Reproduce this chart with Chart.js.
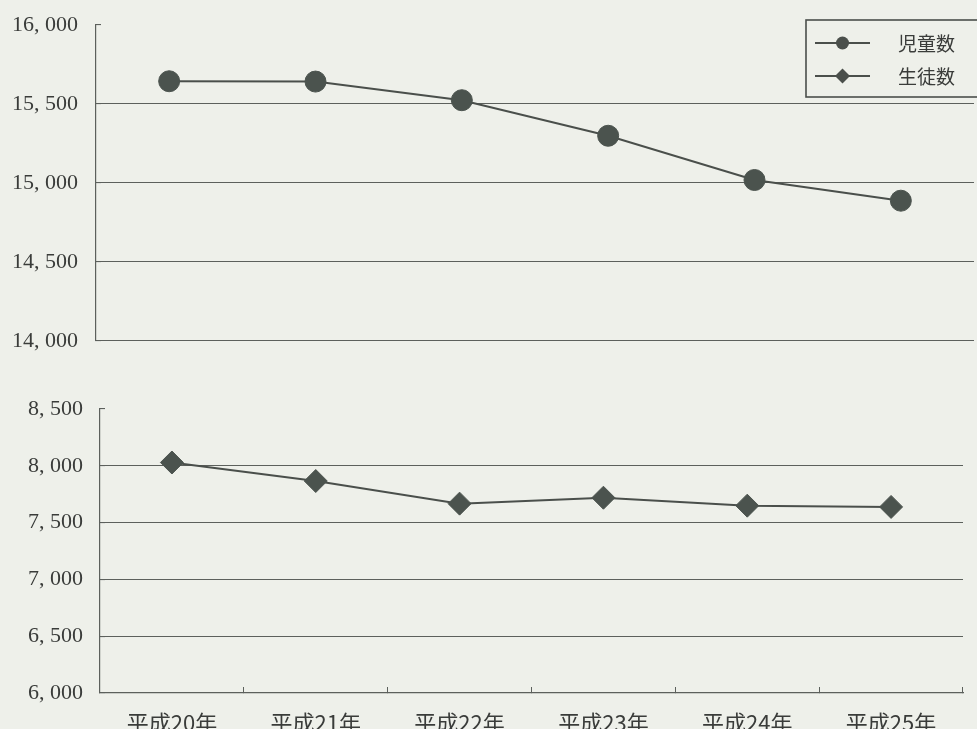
<!DOCTYPE html>
<html>
<head>
<meta charset="utf-8">
<script src="https://cdn.jsdelivr.net/npm/chart.js@4.4.1/dist/chart.umd.min.js"></script>
<style>
  html, body { margin: 0; padding: 0; background: #eef0ea; }
  #wrap { position: relative; width: 977px; height: 729px; overflow: hidden; }
  #childChart { position: absolute; left: 0; top: 0; }
  #studentChart { position: absolute; left: 0; top: 360px; }
</style>
</head>
<body>
<div id="wrap">
  <canvas id="childChart" width="977" height="360"></canvas>
  <canvas id="studentChart" width="977" height="369"></canvas>
</div>
<script>
// School years (Heisei era)
const years = ['平成20年', '平成21年', '平成22年', '平成23年', '平成24年', '平成25年'];

// Elementary school pupils (児童数)
const childCounts = [15644, 15642, 15524, 15299, 15019, 14888];

// Junior high school students (生徒数)
const studentCounts = [8029, 7866, 7667, 7719, 7649, 7638];

// Y-axis tick values for each panel
const childTicks = [14000, 14500, 15000, 15500, 16000];
const studentTicks = [6000, 6500, 7000, 7500, 8000, 8500];

const INK = '#4a4f4b';
const GRID = '#5c605c';
const TEXT = '#3a3c3a';
const BG = '#eef0ea';

const seriesStyles = [
  { label: '児童数', pointStyle: 'circle' },
  { label: '生徒数', pointStyle: 'rectRot' }
];

const fmt = v => {
  const s = Math.round(v).toString();
  return s.slice(0, s.length - 3) + ', ' + s.slice(-3);
};

// Axis boxes keep their fitted size but add no extra overflow padding
const noOverflow = s => {
  s.paddingTop = 0; s.paddingBottom = 0;
  s.paddingLeft = 0; s.paddingRight = 0;
};

// Boxed legend drawn in the upper right of the pupils panel
const boxLegend = {
  id: 'boxLegend',
  afterDraw(chart, args, opts) {
    const ctx = chart.ctx;
    ctx.save();
    ctx.fillStyle = BG;
    ctx.fillRect(opts.x, opts.y, opts.w, opts.h);
    ctx.strokeStyle = INK;
    ctx.lineWidth = 1.6;
    ctx.strokeRect(opts.x, opts.y, opts.w, opts.h);
    seriesStyles.forEach((s, i) => {
      const cy = opts.y + opts.rowTop + i * opts.rowGap;
      const x0 = opts.x + 9, x1 = opts.x + 64, cx = (x0 + x1) / 2;
      ctx.strokeStyle = INK;
      ctx.lineWidth = 2;
      ctx.beginPath();
      ctx.moveTo(x0, cy);
      ctx.lineTo(x1, cy);
      ctx.stroke();
      ctx.fillStyle = INK;
      ctx.beginPath();
      if (s.pointStyle === 'circle') {
        ctx.arc(cx, cy, 6.5, 0, Math.PI * 2);
      } else {
        const r = 7.5;
        ctx.moveTo(cx, cy - r);
        ctx.lineTo(cx + r, cy);
        ctx.lineTo(cx, cy + r);
        ctx.lineTo(cx - r, cy);
        ctx.closePath();
      }
      ctx.fill();
      ctx.fillStyle = TEXT;
      ctx.font = '19px "Noto Sans CJK JP", sans-serif';
      ctx.textBaseline = 'middle';
      ctx.textAlign = 'left';
      ctx.fillText(s.label, opts.x + 92, cy + 1);
    });
    ctx.restore();
  }
};

function panel(canvasId, values, ticks, styleIdx, cfg) {
  const min = ticks[0], max = ticks[ticks.length - 1];
  return new Chart(document.getElementById(canvasId), {
    type: 'line',
    data: {
      labels: years,
      datasets: [{
        label: seriesStyles[styleIdx].label,
        data: values,
        borderColor: INK,
        borderWidth: 2,
        backgroundColor: INK,
        pointStyle: seriesStyles[styleIdx].pointStyle,
        pointRadius: cfg.pointRadius,
        pointBackgroundColor: '#4b534e',
        pointBorderColor: '#4b534e',
        pointBorderWidth: 1,
        tension: 0,
        fill: false,
        clip: false
      }]
    },
    options: {
      responsive: false,
      animation: false,
      devicePixelRatio: 1,
      layout: { padding: cfg.padding, autoPadding: false },
      plugins: {
        legend: { display: false },
        tooltip: { enabled: false },
        boxLegend: cfg.legend || false
      },
      scales: {
        x: {
          type: 'category',
          offset: true,
          display: cfg.showX,
          grid: {
            display: true,
            offset: true,
            drawOnChartArea: false,
            drawTicks: true,
            tickLength: -6,
            color: GRID,
            tickColor: GRID,
            lineWidth: 1
          },
          border: { display: true, color: GRID, width: 1.2 },
          ticks: {
            color: TEXT,
            padding: 22,
            maxRotation: 0,
            autoSkip: false,
            font: { family: '"Noto Sans CJK JP", sans-serif', size: 22 }
          },
          afterFit: s => { s.height = cfg.xHeight; noOverflow(s); }
        },
        y: {
          type: 'linear',
          min: min,
          max: max,
          afterBuildTicks: s => { s.ticks = ticks.map(v => ({ value: v })); },
          grid: {
            drawTicks: true,
            tickLength: -5,
            color: c => (c.tick && c.tick.value === max) ? 'rgba(0,0,0,0)' : GRID,
            tickColor: GRID,
            lineWidth: 1.1
          },
          border: { display: true, color: GRID, width: 1.2 },
          ticks: {
            color: TEXT,
            padding: cfg.yPad,
            callback: v => fmt(v),
            font: { family: '"Liberation Serif", "DejaVu Serif", serif', size: 22 }
          },
          afterFit: s => { s.width = cfg.yWidth; noOverflow(s); }
        }
      }
    },
    plugins: [boxLegend]
  });
}

panel('childChart', childCounts, childTicks, 0, {
  pointRadius: 10.5,
  padding: { top: 25, bottom: 19, left: 0, right: 3 },
  showX: false,
  xHeight: 0,
  yWidth: 96,
  yPad: 23,
  legend: { x: 806, y: 20, w: 200, h: 77, rowTop: 23, rowGap: 33 }
});

panel('studentChart', studentCounts, studentTicks, 1, {
  pointRadius: 11.5,
  padding: { top: 49, bottom: 0, left: 0, right: 14 },
  showX: true,
  xHeight: 36,
  yWidth: 100,
  yPad: 22
});
</script>
</body>
</html>
